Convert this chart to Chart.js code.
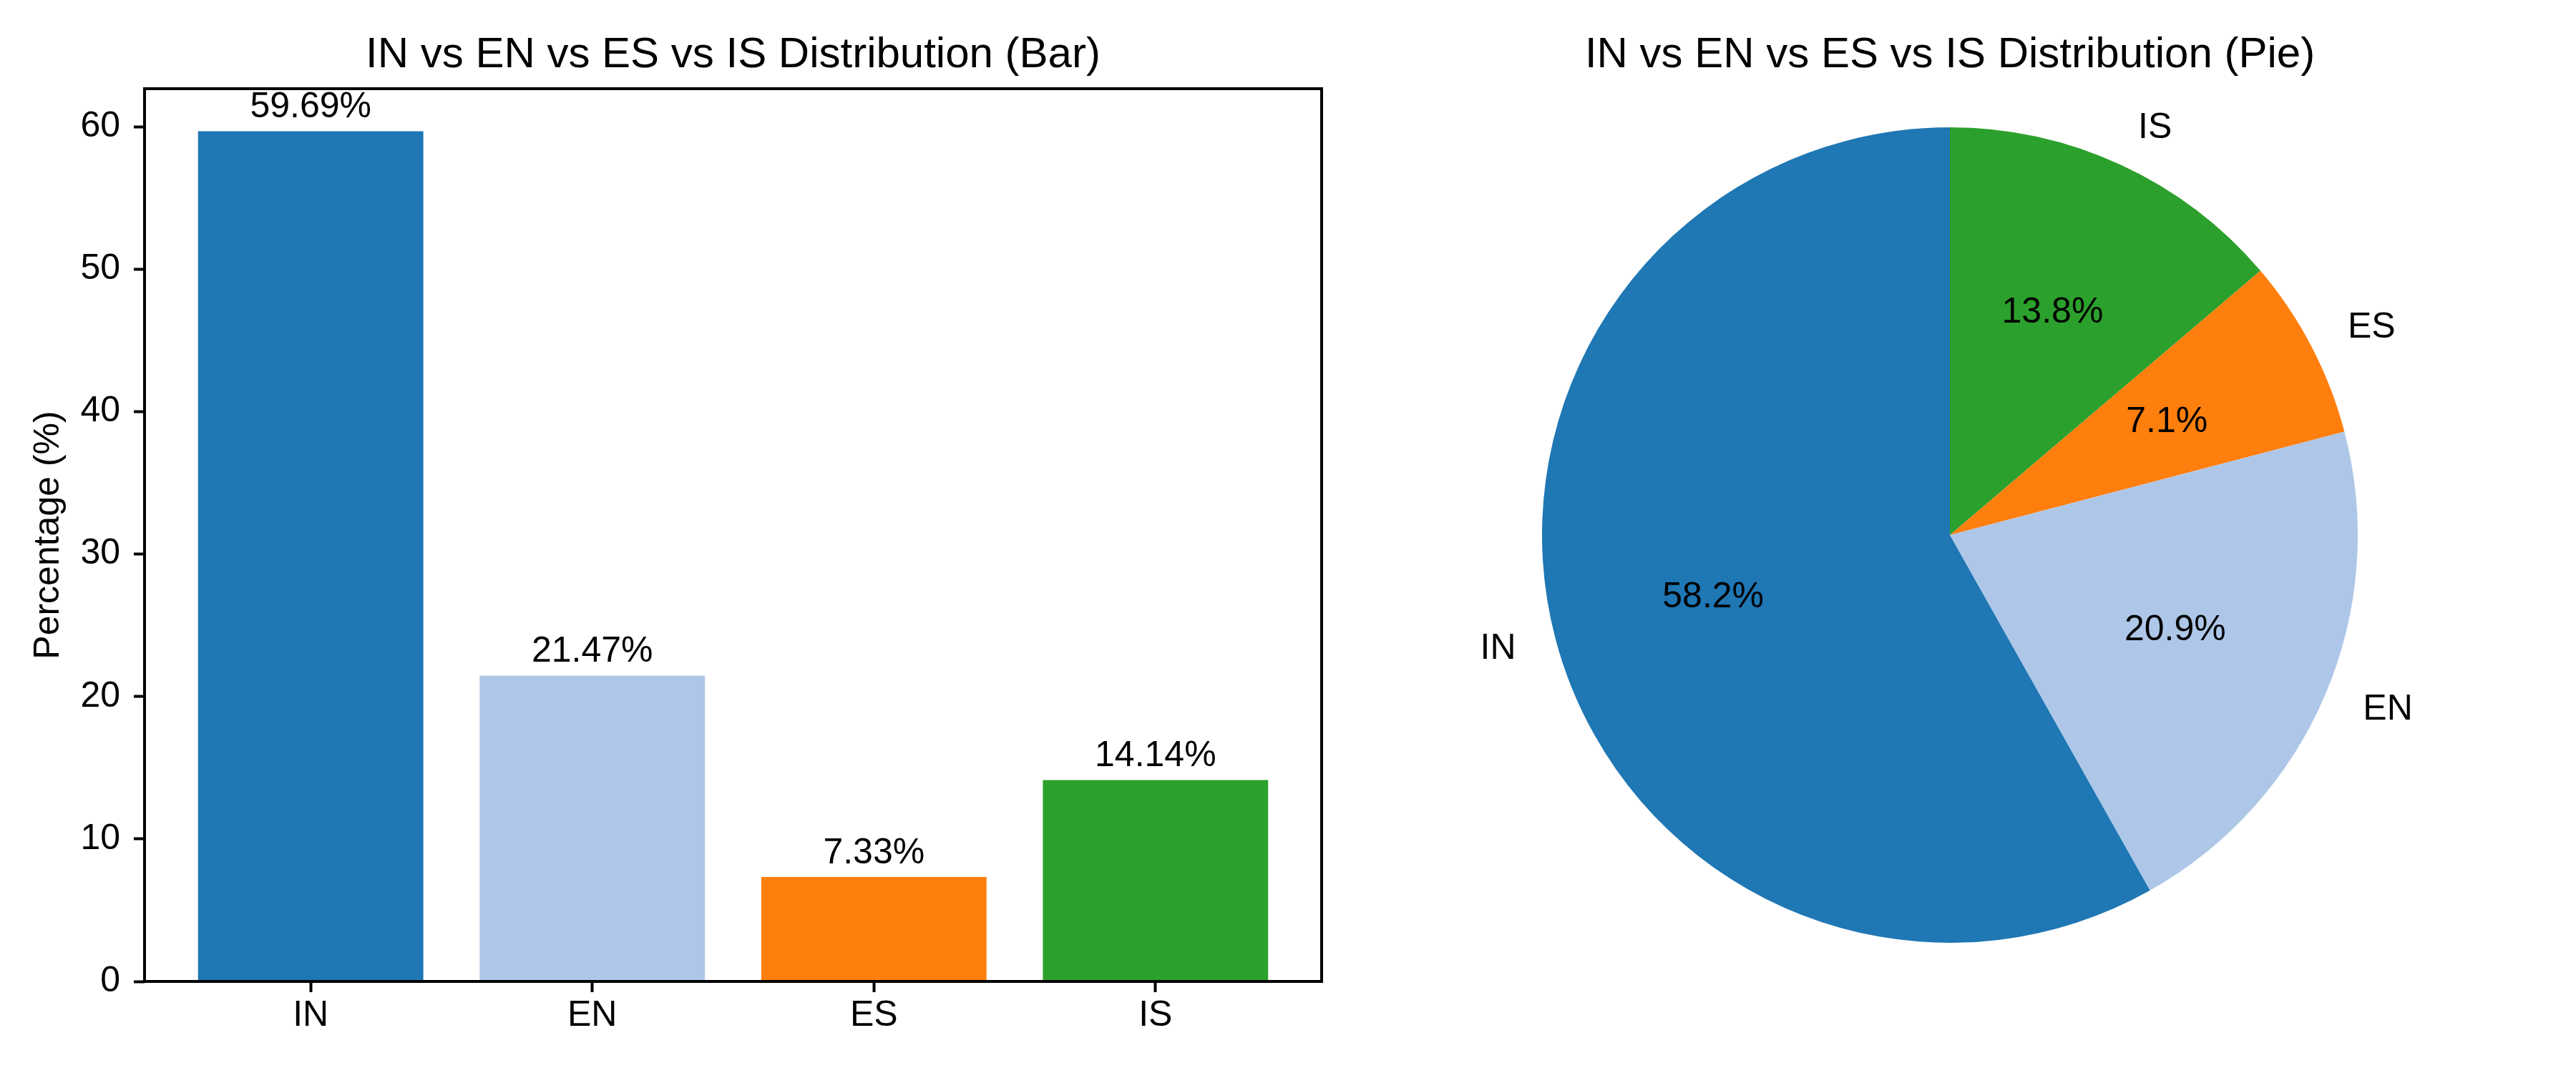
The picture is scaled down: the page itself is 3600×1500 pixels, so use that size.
<!DOCTYPE html>
<html>
<head>
<meta charset="utf-8">
<title>IN vs EN vs ES vs IS Distribution</title>
<script src="https://cdn.jsdelivr.net/npm/chart.js@4.4.0/dist/chart.umd.min.js"></script>
<style>
  html, body { margin: 0; padding: 0; background: #fff; }
  #wrap { position: relative; width: 3600px; height: 1500px; background: #fff; }
  #barCanvas { position: absolute; left: 0; top: 0; }
  #pieCanvas { position: absolute; left: 1900px; top: 0; }
</style>
</head>
<body>
<div id="wrap">
  <canvas id="barCanvas" width="1900" height="1500"></canvas>
  <canvas id="pieCanvas" width="1700" height="1500"></canvas>
</div>
<script>
// data
const categories = ['IN', 'EN', 'ES', 'IS'];
const percentages = [59.69, 21.47, 7.33, 14.14];
const colors = ['#1f77b4', '#aec7e8', '#ff7f0e', '#2ca02c'];
const yTicks = [0, 10, 20, 30, 40, 50, 60];

Chart.defaults.font.family = "'Liberation Sans', Arial, Helvetica, sans-serif";
Chart.defaults.font.size = 50;
Chart.defaults.color = '#000';

// matplotlib-like limits
const barWidth = 0.8;
const xSpan = (categories.length - 1) + barWidth;
const xMin = -barWidth / 2 - 0.05 * xSpan;
const xMax = (categories.length - 1) + barWidth / 2 + 0.05 * xSpan;
const yMax = Math.max(...percentages) * 1.05;

// frame around the axes + value labels above bars
const barExtras = {
    id: 'barExtras',
    afterDatasetsDraw(chart) {
        const ctx = chart.ctx;
        const area = chart.chartArea;
        ctx.save();
        ctx.font = "50px 'Liberation Sans', Arial, sans-serif";
        ctx.fillStyle = '#000';
        ctx.textAlign = 'center';
        ctx.textBaseline = 'alphabetic';
        chart.getDatasetMeta(0).data.forEach((bar, i) => {
            ctx.fillText(percentages[i].toFixed(2) + '%', bar.x, bar.y - 19);
        });
        ctx.strokeStyle = '#000';
        ctx.lineWidth = 4;
        ctx.strokeRect(area.left, area.top, area.right - area.left, area.bottom - area.top);
        ctx.restore();
    }
};

new Chart(document.getElementById('barCanvas'), {
    type: 'bar',
    data: {
        datasets: [{
            data: categories.map((c, i) => ({ x: i, y: percentages[i] })),
            backgroundColor: colors,
            borderWidth: 0,
            barPercentage: barWidth,
            categoryPercentage: 1
        }]
    },
    options: {
        responsive: false,
        animation: false,
        layout: { padding: { left: 0, right: 53, top: 0, bottom: 0 } },
        plugins: {
            legend: { display: false },
            tooltip: { enabled: false },
            title: {
                display: true,
                text: 'IN vs EN vs ES vs IS Distribution (Bar)',
                fullSize: false,
                font: { size: 60, weight: 'normal', lineHeight: 1.2 },
                color: '#000',
                padding: { top: 41, bottom: 11 }
            }
        },
        scales: {
            x: {
                type: 'linear',
                min: xMin,
                max: xMax,
                offset: false,
                grid: { display: true, offset: false, drawOnChartArea: false, drawTicks: true, tickLength: 15, tickWidth: 4, tickColor: '#000' },
                border: { display: false },
                ticks: {
                    stepSize: 1,
                    includeBounds: false,
                    padding: 3,
                    maxRotation: 0,
                    autoSkip: false,
                    callback: v => categories[v] ?? ''
                },
                afterFit: s => { s.height = 128; }
            },
            y: {
                type: 'linear',
                min: 0,
                max: yMax,
                grid: { display: true, drawOnChartArea: false, drawTicks: true, tickLength: 15, tickWidth: 4, tickColor: '#000' },
                border: { display: false },
                afterBuildTicks: s => { s.ticks = yTicks.map(v => ({ value: v })); },
                ticks: { padding: 19 },
                title: {
                    display: true,
                    text: 'Percentage (%)',
                    font: { size: 50, lineHeight: 1.2 },
                    color: '#000',
                    padding: { top: 38, bottom: 0 }
                },
                afterFit: s => { s.width = 202; }
            }
        }
    },
    plugins: [barExtras]
});

// pie: matplotlib draws counter-clockwise from 90deg, Chart.js clockwise from top,
// so feed the slices in reverse order
const pieOrder = categories.map((c, i) => i).reverse();
const pieTotal = percentages.reduce((a, b) => a + b, 0);

const pieLabels = {
    id: 'pieLabels',
    afterDatasetsDraw(chart) {
        const ctx = chart.ctx;
        ctx.save();
        ctx.font = "50px 'Liberation Sans', Arial, sans-serif";
        ctx.fillStyle = '#000';
        ctx.textBaseline = 'middle';
        chart.getDatasetMeta(0).data.forEach((arc, k) => {
            const i = pieOrder[k];
            const mid = (arc.startAngle + arc.endAngle) / 2;
            const r = arc.outerRadius;
            const cx = Math.cos(mid), cy = Math.sin(mid);
            ctx.textAlign = cx > 0 ? 'left' : 'right';
            ctx.fillText(categories[i], arc.x + cx * r * 1.1, arc.y + cy * r * 1.1);
            ctx.textAlign = 'center';
            const pct = percentages[i] / pieTotal * 100;
            ctx.fillText(pct.toFixed(1) + '%', arc.x + cx * r * 0.6, arc.y + cy * r * 0.6);
        });
        ctx.restore();
    }
};

new Chart(document.getElementById('pieCanvas'), {
    type: 'pie',
    data: {
        labels: pieOrder.map(i => categories[i]),
        datasets: [{
            data: pieOrder.map(i => percentages[i]),
            backgroundColor: pieOrder.map(i => colors[i]),
            borderWidth: 0
        }]
    },
    options: {
        responsive: false,
        animation: false,
        layout: { padding: { left: 0, right: 50, top: 0, bottom: 182 } },
        plugins: {
            legend: { display: false },
            tooltip: { enabled: false },
            title: {
                display: true,
                text: 'IN vs EN vs ES vs IS Distribution (Pie)',
                fullSize: false,
                font: { size: 60, weight: 'normal', lineHeight: 1.2 },
                color: '#000',
                padding: { top: 41, bottom: 65 }
            }
        }
    },
    plugins: [pieLabels]
});
</script>
</body>
</html>
